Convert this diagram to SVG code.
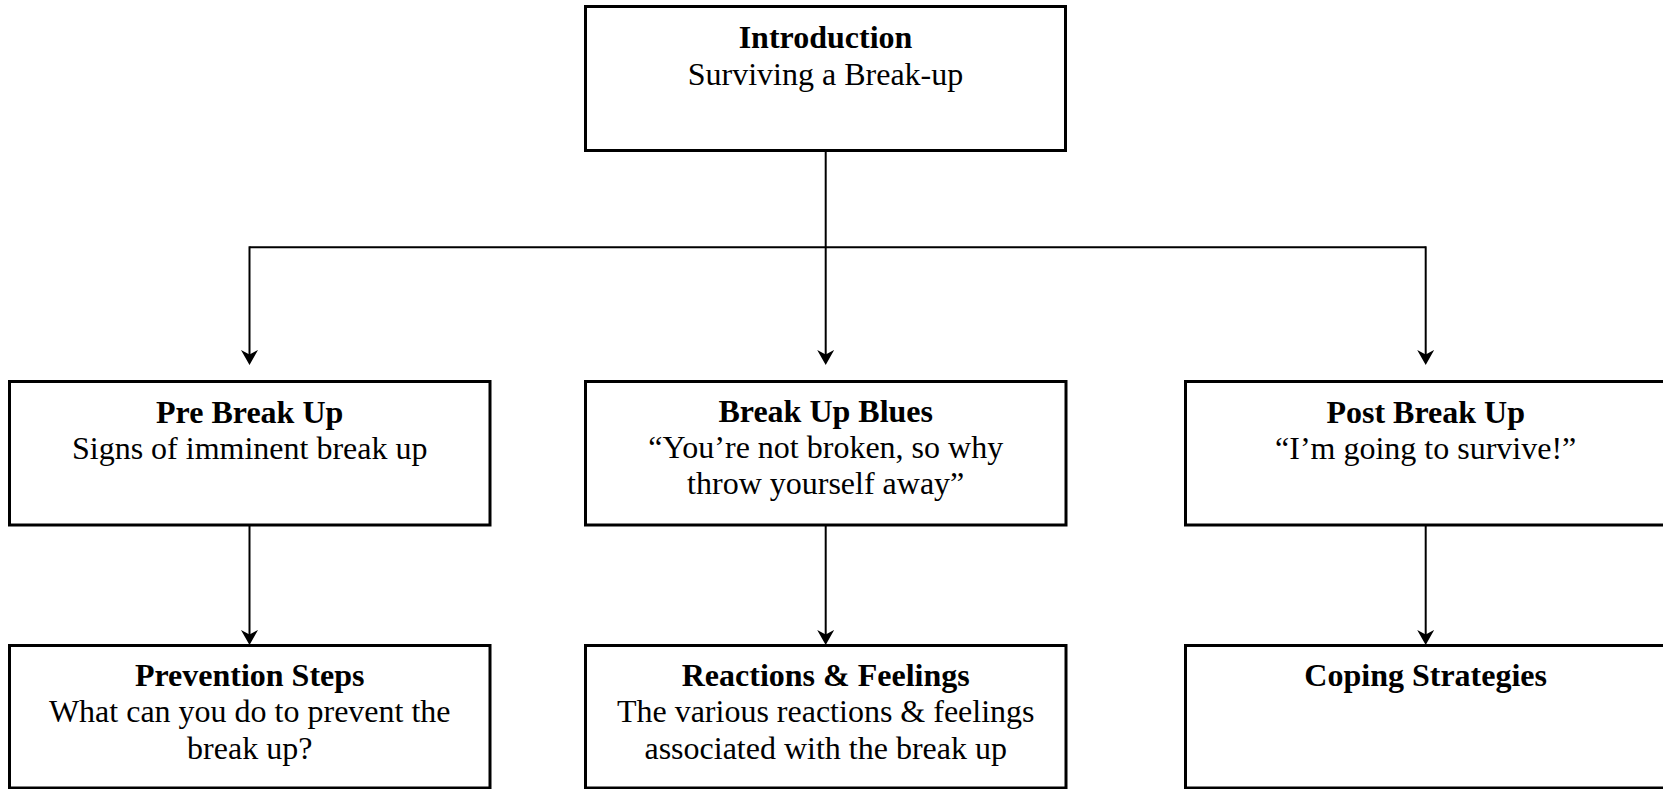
<svg xmlns="http://www.w3.org/2000/svg" width="1663" height="789" viewBox="0 0 1663 789">
<defs>
<style>
.box{fill:#fff;stroke:#000;stroke-width:3}
.conn{fill:none;stroke:#000;stroke-width:2}
text{font-family:"Liberation Serif","Times New Roman",serif;font-size:32px;fill:#000;text-anchor:middle}
.t{font-weight:bold}
</style>
<marker id="arr" viewBox="0 0 15 17" markerWidth="15" markerHeight="17" refX="12" refY="8.5" orient="auto" markerUnits="userSpaceOnUse">
<path d="M0,0 L15,8.5 L0,17 L4.5,8.5 Z" fill="#000"/>
</marker>
</defs>
<rect width="1663" height="789" fill="#fff"/>
<g id="connectors">
<path class="conn" d="M825.7,150 V247.3"/>
<path class="conn" d="M249.5,247.3 H1425.7"/>
<path class="conn" d="M249.5,246.3 V362" marker-end="url(#arr)"/>
<path class="conn" d="M825.7,247.3 V362" marker-end="url(#arr)"/>
<path class="conn" d="M1425.7,246.3 V362" marker-end="url(#arr)"/>
<path class="conn" d="M249.5,525 V642" marker-end="url(#arr)"/>
<path class="conn" d="M825.7,525 V642" marker-end="url(#arr)"/>
<path class="conn" d="M1425.7,525 V642" marker-end="url(#arr)"/>
</g>
<g id="intro">
<rect class="box" x="585.5" y="6.5" width="480" height="144"/>
<text class="t" x="825.5" y="48">Introduction</text>
<text x="825.5" y="85">Surviving a Break-up</text>
</g>
<g id="pre">
<rect class="box" x="9.5" y="381.5" width="480.5" height="143.5"/>
<text class="t" x="249.7" y="422.5">Pre Break Up</text>
<text x="249.7" y="459">Signs of imminent break up</text>
</g>
<g id="blues">
<rect class="box" x="585.5" y="381.5" width="480.5" height="143.5"/>
<text class="t" x="825.7" y="421.5">Break Up Blues</text>
<text x="825.7" y="457.5">“You’re not broken, so why</text>
<text x="825.7" y="494">throw yourself away”</text>
</g>
<g id="post">
<rect class="box" x="1185.5" y="381.5" width="481" height="143.5"/>
<text class="t" x="1425.7" y="422.5">Post Break Up</text>
<text x="1425.7" y="459">“I’m going to survive!”</text>
</g>
<g id="prevention">
<rect class="box" x="9.5" y="645.5" width="480.5" height="142.5"/>
<text class="t" x="249.7" y="685.5">Prevention Steps</text>
<text x="249.7" y="722">What can you do to prevent the</text>
<text x="249.7" y="759">break up?</text>
</g>
<g id="reactions">
<rect class="box" x="585.5" y="645.5" width="480.5" height="142.5"/>
<text class="t" x="825.7" y="685.5">Reactions &amp; Feelings</text>
<text x="825.7" y="722">The various reactions &amp; feelings</text>
<text x="825.7" y="759">associated with the break up</text>
</g>
<g id="coping">
<rect class="box" x="1185.5" y="645.5" width="481" height="142.5"/>
<text class="t" x="1425.7" y="685.5">Coping Strategies</text>
</g>
</svg>
